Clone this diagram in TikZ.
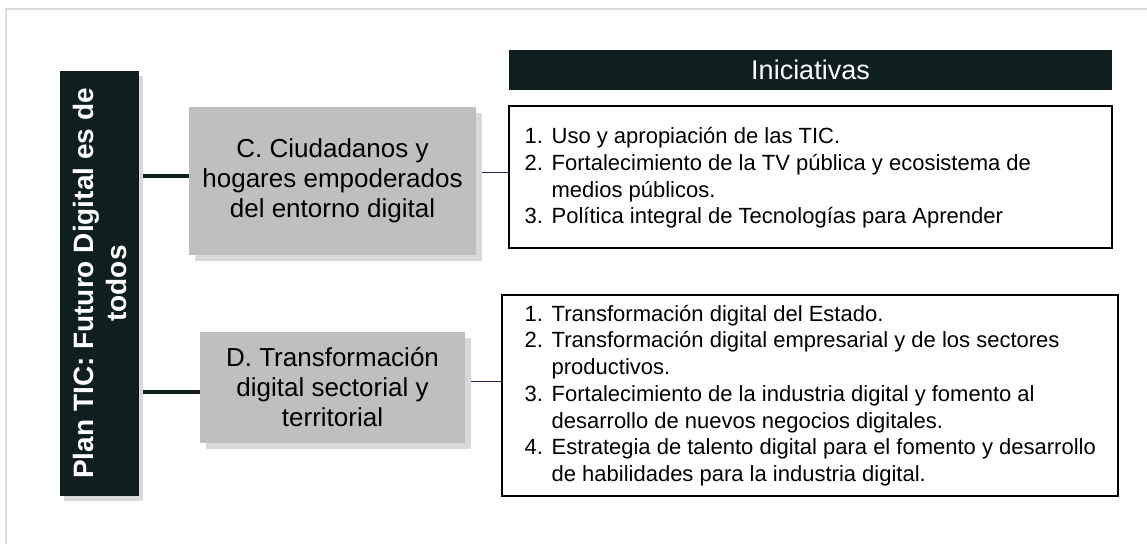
\documentclass[tikz,border=0pt]{standalone}
\usepackage{fontspec}
\setmainfont{Liberation Sans}
\usetikzlibrary{shadows,calc}
\definecolor{darkbg}{HTML}{0F1E1E}
\definecolor{boxgray}{HTML}{BFBFBF}
\definecolor{shadegray}{HTML}{D9D9D9}
\definecolor{framegray}{HTML}{DDDDDD}
\definecolor{navy}{HTML}{202A5A}
\tikzset{
  darkbox/.style={fill=darkbg, text=white, inner sep=0pt,
    drop shadow={shadow xshift=4pt, shadow yshift=-5pt, fill=shadegray, opacity=1}},
  graybox/.style={fill=boxgray, text=black, inner sep=0pt, align=center,
    font=\fontsize{26}{30}\selectfont,
    drop shadow={shadow xshift=6pt, shadow yshift=-6pt, fill=shadegray, opacity=1}},
  listbox/.style={draw=black, line width=1.1pt, fill=white, inner sep=0pt},
  listtext/.style={align=left, inner sep=0pt, anchor=west,
    font=\fontsize{22}{26.7}\selectfont},
  headbox/.style={fill=darkbg, text=white, inner sep=0pt,
    font=\fontsize{27}{30}\selectfont},
  thickline/.style={draw=darkbg, line width=4pt},
  thinline/.style={draw=navy, line width=1pt},
}
\newcommand{\num}[1]{\makebox[27pt][l]{#1}}
\newcommand{\ind}{\hspace*{27pt}}
\begin{document}
\begin{tikzpicture}[x=1pt,y=-1pt]
\useasboundingbox (0,0) rectangle (1147,544);
\fill[white] (0,0) rectangle (1147,544);
% frame
\draw[framegray, line width=1.5pt] (6,544) -- (6,9) -- (1147,9);

% left title box
\node[darkbox, minimum width=79pt, minimum height=425pt] (plan) at (99.5,283.5) {};
\node[text=white, rotate=90, align=center, inner sep=0pt,
  font=\fontsize{28}{33}\selectfont\bfseries] (plantext) at (plan.center)
  {Plan TIC: Futuro Digital es de\\todos};

% gray boxes
\node[graybox, minimum width=287pt, minimum height=148pt] (c) at (332.5,181)
  {C. Ciudadanos y\\hogares empoderados\\del entorno digital};
\node[graybox, minimum width=265pt, minimum height=111pt] (d) at (332.5,387.5)
  {D. Transformación\\digital sectorial y\\territorial};

% header
\node[headbox, minimum width=603pt, minimum height=40pt] (head) at (810.5,70) {Iniciativas};

% list boxes
\node[listbox, minimum width=603pt, minimum height=142pt] (list1) at (810.5,177) {};
\node[listtext] (list1txt) at ([xshift=16pt,yshift=-1pt]list1.west)
  {\num{1.}Uso y apropiación de las TIC.\\
   \num{2.}Fortalecimiento de la TV pública y ecosistema de\\
   \ind medios públicos.\\
   \num{3.}Política integral de Tecnologías para Aprender};
\node[listbox, minimum width=616pt, minimum height=201pt] (list2) at (810,395.5) {};
\node[listtext] (list2txt) at ([xshift=23pt]list2.west)
  {\num{1.}Transformación digital del Estado.\\
   \num{2.}Transformación digital empresarial y de los sectores\\
   \ind productivos.\\
   \num{3.}Fortalecimiento de la industria digital y fomento al\\
   \ind desarrollo de nuevos negocios digitales.\\
   \num{4.}Estrategia de talento digital para el fomento y desarrollo\\
   \ind de habilidades para la industria digital.};

% connectors
\draw[thickline] ([yshift=5pt]c.west) -- ([yshift=5pt,xshift=4pt]c.west -| plan.east);
\draw[thickline] ([yshift=-4.5pt]d.west) -- ([yshift=-4.5pt,xshift=4pt]d.west -| plan.east);
\draw[thinline] ([yshift=9pt,xshift=6pt]c.east) -- ([yshift=9pt]c.east -| list1.west);
\draw[thinline] ([yshift=6.5pt,xshift=6pt]d.east) -- ([yshift=6.5pt]d.east -| list2.west);
\end{tikzpicture}
\end{document}
